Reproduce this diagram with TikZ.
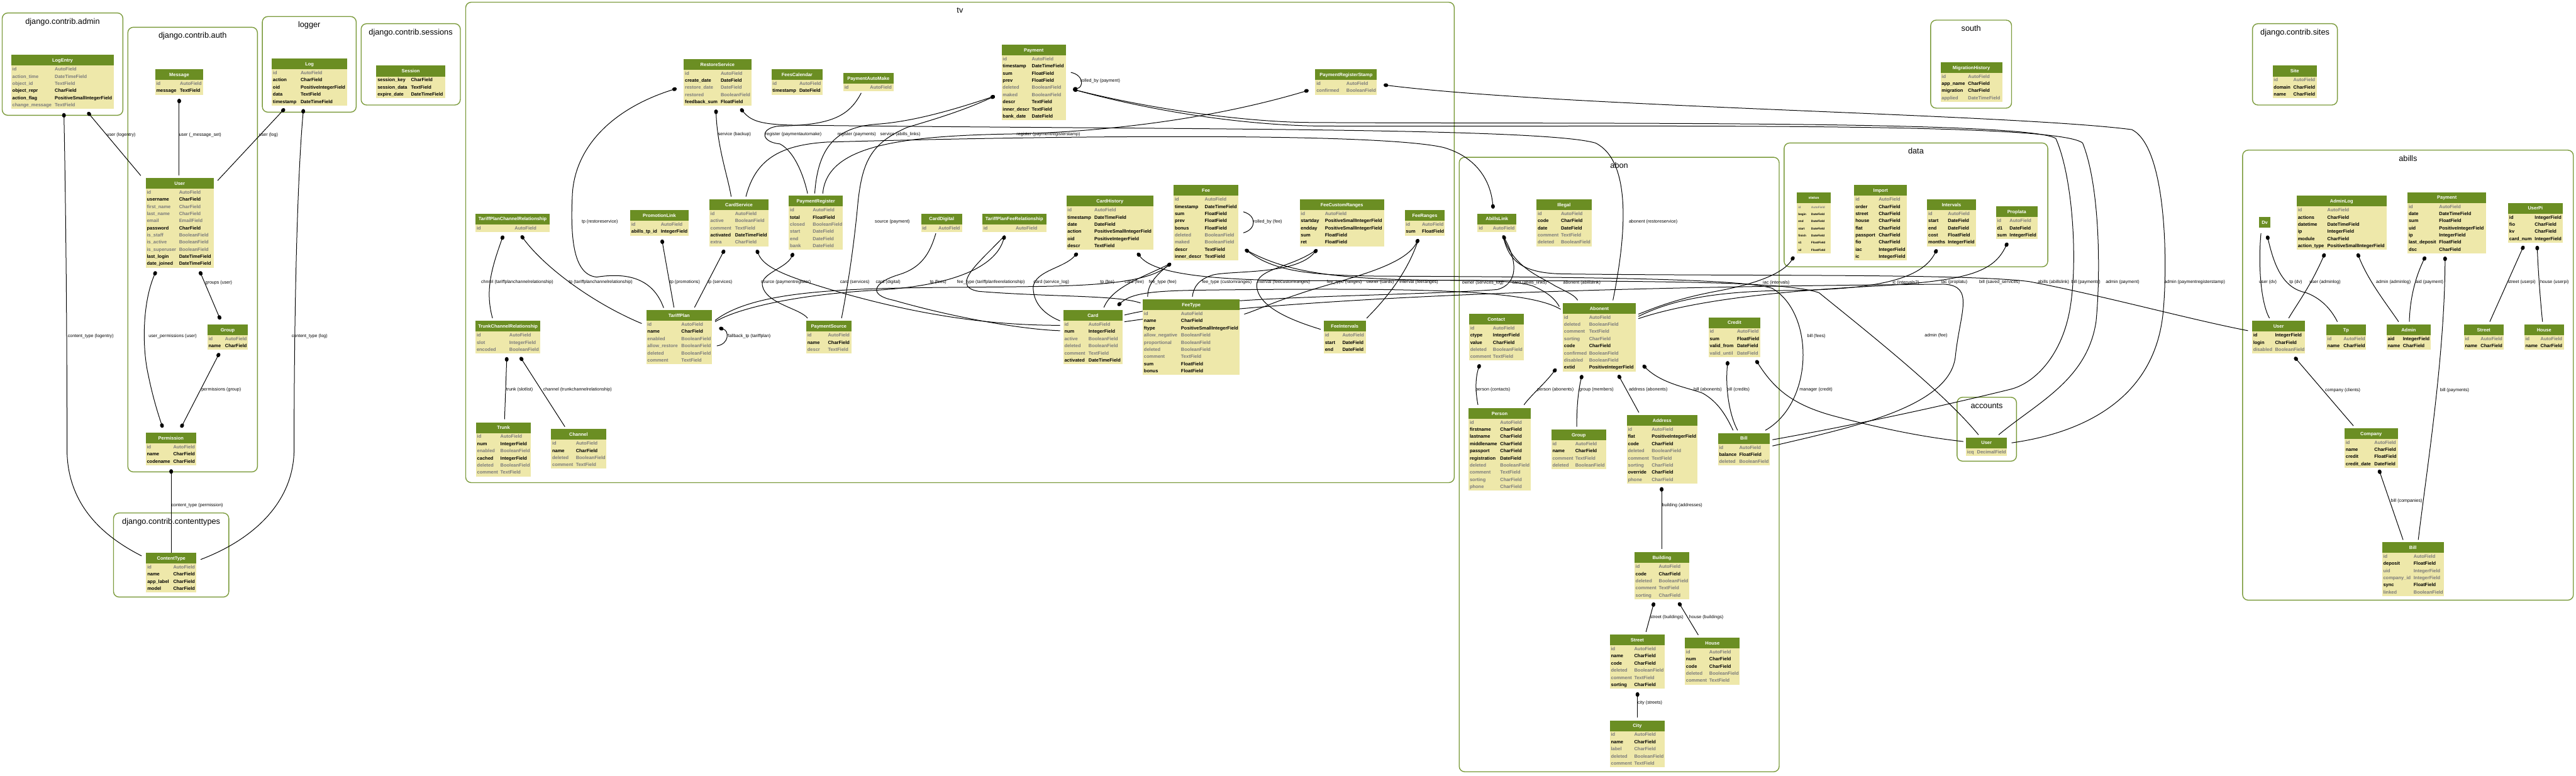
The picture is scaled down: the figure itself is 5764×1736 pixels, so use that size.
\documentclass[tikz,border=0pt]{standalone}
\usepackage{fontspec}
\setmainfont{Liberation Sans}
\usetikzlibrary{fit,arrows.meta}
\definecolor{hdc}{HTML}{6B8E23}
\definecolor{bdc}{HTML}{EEE8AA}
\definecolor{cg}{HTML}{7B7B7B}
\colorlet{cb}{black}
\definecolor{clc}{HTML}{7A9A3A}
\pgfdeclarelayer{back}\pgfdeclarelayer{cl}\pgfdeclarelayer{edges}
\pgfsetlayers{back,cl,edges,main}
\newcommand\rowfont{\fontsize{2.99pt}{3.5pt}\selectfont\bfseries}
\newcommand\hdrfont{\fontsize{2.99pt}{3.5pt}\selectfont\bfseries}
\newcommand\lblfont{\fontsize{2.85pt}{3.3pt}\selectfont}
\newcommand\clfont{\fontsize{5.1pt}{6pt}\selectfont}
\tikzset{
  rowt/.style={font=\rowfont, inner sep=0pt, anchor=base west},
  hdr/.style={font=\hdrfont, text=white, inner sep=0pt},
  lbl/.style={font=\lblfont, inner sep=0pt, anchor=west},
  clus/.style={draw=clc, line width=0.55pt, rounded corners=3.5pt, inner sep=0pt, outer sep=0pt},
  ctitle/.style={font=\clfont, inner sep=0pt, anchor=base},
  fk/.style={draw=black, line width=0.4pt},
  ds/.style={{Ellipse[length=2.9pt,width=2.4pt]}-},
  de/.style={-{Ellipse[length=2.9pt,width=2.4pt]}},
  dd/.style={{Ellipse[length=2.9pt,width=2.4pt]}-{Ellipse[length=2.9pt,width=2.4pt]}},
}
% table: name, title, x0, y0, x1, col2x, rows
\newcommand\mtbl[7]{%
  \expandafter\gdef\csname ox#1\endcsname{#3}%
  \expandafter\gdef\csname oy#1\endcsname{#4}%
  \gdef\nrows{0}%
  \foreach \rc/\ra/\rb [count=\ii] in {#7} {\xdef\nrows{\ii}}%
  \fill[bdc] (#3,#4) rectangle (#5,{#4+25+16*\nrows});
  \fill[hdc] (#3,#4) rectangle (#5,#4+24);
  \node[hdr, anchor=base] (#1-h) at ({(#3+#5)/2},{#4+15.8}) {#2};
  \foreach \rc/\ra/\rb [count=\ii] in {#7} {
    \node[rowt, text=\rc] (#1-\ii-a) at (#3+2,{#4+16*\ii+19.8}) {\ra};
    \node[rowt, text=\rc] (#1-\ii-b) at (#6,{#4+16*\ii+19.8}) {\rb};
  }
  \node[fit={(#3,#4)(#5,{#4+25+16*\nrows})}, inner sep=0pt, outer sep=0pt] (#1) {};
}
\newcommand\mtblh[5]{%
  \expandafter\gdef\csname ox#1\endcsname{#3}%
  \expandafter\gdef\csname oy#1\endcsname{#4}%
  \fill[hdc] (#3,#4) rectangle (#5,#4+24);
  \node[hdr, anchor=base] (#1-h) at ({(#3+#5)/2},{#4+15.8}) {#2};
  \node[fit={(#3,#4)(#5,#4+24)}, inner sep=0pt, outer sep=0pt] (#1) {};
}
% cluster: name, x0,y0,x1,y1,title
\newcommand\clu[6]{%
  \node[clus, fit={(#2,#3)(#4,#5)}] (cl-#1) {};
  \node[ctitle] (cl-#1-t) at ({(#2+#4)/2},{#3+24.5}) {#6};
}
% connector: style, T1, x1, y1, middle, T2, x2, y2
\newcommand\fk[8]{%
  \expandafter\let\expandafter\tmpax\csname ox#2\endcsname
  \expandafter\let\expandafter\tmpay\csname oy#2\endcsname
  \expandafter\let\expandafter\tmpbx\csname ox#6\endcsname
  \expandafter\let\expandafter\tmpby\csname oy#6\endcsname
  \pgfmathsetmacro\pax{#3-\tmpax}\pgfmathsetmacro\pay{#4-\tmpay}%
  \pgfmathsetmacro\pbx{#7-\tmpbx}\pgfmathsetmacro\pby{#8-\tmpby}%
  \draw[fk,#1] ([shift={(\pax,\pay)}]#2.north west) #5 ([shift={(\pbx,\pby)}]#6.north west);
}
\begin{document}
\catcode`\_=12
\begin{tikzpicture}[x=0.01cm,y=-0.01cm]
\useasboundingbox (0,0) rectangle (5764,1736);
\begin{pgfonlayer}{back}
\fill[white] (0,0) rectangle (5764,1736);
\end{pgfonlayer}

\begin{pgfonlayer}{cl}
\clu{admin}{5}{29}{275}{258}{django.contrib.admin}
\clu{auth}{286}{61}{576}{1056}{django.contrib.auth}
\clu{logger}{587}{37}{797}{251}{logger}
\clu{sessions}{808}{53}{1030}{235}{django.contrib.sessions}
\clu{ctypes}{254}{1148}{512}{1336}{django.contrib.contenttypes}
\clu{tv}{1042}{5}{3254}{1080}{tv}
\clu{abon}{3265}{352}{3981}{1727}{abon}
\clu{data}{3992}{320}{4582}{597}{data}
\clu{south}{4320}{45}{4501}{242}{south}
\clu{sites}{5040}{53}{5230}{235}{django.contrib.sites}
\clu{abills}{5018}{336}{5758}{1343}{abills}
\clu{accounts}{4379}{889}{4512}{1032}{accounts}
\end{pgfonlayer}

% ---------------- tables
\mtbl{LogEntry}{LogEntry}{25}{123}{255}{122}{cg/id/AutoField, cg/action_time/DateTimeField, cg/object_id/TextField, cb/object_repr/CharField, cb/action_flag/PositiveSmallIntegerField, cg/change_message/TextField}
\mtbl{Message}{Message}{347}{155}{455}{402}{cg/id/AutoField, cb/message/TextField}
\mtbl{authUser}{User}{326}{398}{478}{400}{cg/id/AutoField, cb/username/CharField, cg/first_name/CharField, cg/last_name/CharField, cg/email/EmailField, cb/password/CharField, cg/is_staff/BooleanField, cg/is_active/BooleanField, cg/is_superuser/BooleanField, cb/last_login/DateTimeField, cb/date_joined/DateTimeField}
\mtbl{authGroup}{Group}{464}{726}{555}{503}{cg/id/AutoField, cb/name/CharField}
\mtbl{Permission}{Permission}{326}{968}{439}{387}{cg/id/AutoField, cb/name/CharField, cb/codename/CharField}
\mtbl{ContentType}{ContentType}{327}{1237}{439}{387}{cg/id/AutoField, cb/name/CharField, cb/app_label/CharField, cb/model/CharField}
\mtbl{Log}{Log}{608}{131}{777}{672}{cg/id/AutoField, cb/action/CharField, cb/oid/PositiveIntegerField, cb/data/TextField, cb/timestamp/DateTimeField}
\mtbl{Session}{Session}{842}{147}{996}{919}{cb/session_key/CharField, cb/session_data/TextField, cb/expire_date/DateTimeField}
% tv
\mtbl{RestoreService}{RestoreService}{1530}{132}{1681}{1612}{cg/id/AutoField, cb/create_date/DateField, cg/restore_date/DateField, cg/restored/BooleanField, cb/feedback_sum/FloatField}
\mtbl{FeesCalendar}{FeesCalendar}{1726}{155}{1841}{1788}{cg/id/AutoField, cb/timestamp/DateField}
\mtbl{PaymentAutoMake}{PaymentAutoMake}{1887}{163}{1999}{1946}{cg/id/AutoField}
\mtbl{tvPayment}{Payment}{2241}{100}{2385}{2308}{cg/id/AutoField, cb/timestamp/DateTimeField, cb/sum/FloatField, cb/prev/FloatField, cg/deleted/BooleanField, cg/maked/BooleanField, cb/descr/TextField, cb/inner_descr/TextField, cb/bank_date/DateField}
\mtbl{PaymentRegisterStamp}{PaymentRegisterStamp}{2943}{155}{3081}{3012}{cg/id/AutoField, cg/confirmed/BooleanField}
\mtbl{TariffPlanChannelRelationship}{TariffPlanChannelRelationship}{1064}{478}{1230}{1151}{cg/id/AutoField}
\mtbl{PromotionLink}{PromotionLink}{1410}{470}{1541}{1478}{cg/id/AutoField, cb/abills_tp_id/IntegerField}
\mtbl{CardService}{CardService}{1587}{446}{1720}{1644}{cg/id/AutoField, cg/active/BooleanField, cg/comment/TextField, cb/activated/DateTimeField, cg/extra/CharField}
\mtbl{PaymentRegister}{PaymentRegister}{1765}{438}{1886}{1818}{cg/id/AutoField, cb/total/FloatField, cg/closed/BooleanField, cg/start/DateField, cg/end/DateField, cg/bank/DateField}
\mtbl{CardDigital}{CardDigital}{2061}{478}{2153}{2099}{cg/id/AutoField}
\mtbl{TariffPlanFeeRelationship}{TariffPlanFeeRelationship}{2198}{478}{2341}{2272}{cg/id/AutoField}
\mtbl{CardHistory}{CardHistory}{2386}{438}{2581}{2448}{cg/id/AutoField, cb/timestamp/DateTimeField, cb/date/DateField, cb/action/PositiveSmallIntegerField, cb/oid/PositiveIntegerField, cb/descr/TextField}
\mtbl{Fee}{Fee}{2626}{414}{2771}{2695}{cg/id/AutoField, cb/timestamp/DateTimeField, cb/sum/FloatField, cb/prev/FloatField, cb/bonus/FloatField, cg/deleted/BooleanField, cg/maked/BooleanField, cb/descr/TextField, cb/inner_descr/TextField}
\mtbl{FeeCustomRanges}{FeeCustomRanges}{2908}{446}{3097}{2964}{cg/id/AutoField, cb/startday/PositiveSmallIntegerField, cb/endday/PositiveSmallIntegerField, cb/sum/FloatField, cb/ret/FloatField}
\mtbl{FeeRanges}{FeeRanges}{3143}{470}{3233}{3181}{cg/id/AutoField, cb/sum/FloatField}
\mtbl{TrunkChannelRelationship}{TrunkChannelRelationship}{1064}{718}{1209}{1139}{cg/id/AutoField, cg/slot/IntegerField, cg/encoded/BooleanField}
\mtbl{TariffPlan}{TariffPlan}{1446}{694}{1593}{1524}{cg/id/AutoField, cb/name/CharField, cg/enabled/BooleanField, cg/allow_restore/BooleanField, cg/deleted/BooleanField, cg/comment/TextField}
\mtbl{PaymentSource}{PaymentSource}{1804}{718}{1905}{1852}{cg/id/AutoField, cb/name/CharField, cg/descr/TextField}
\mtbl{Card}{Card}{2379}{694}{2512}{2435}{cg/id/AutoField, cb/num/IntegerField, cg/active/BooleanField, cg/deleted/BooleanField, cg/comment/TextField, cb/activated/DateTimeField}
\mtbl{FeeType}{FeeType}{2557}{670}{2774}{2642}{cg/id/AutoField, cb/name/CharField, cb/ftype/PositiveSmallIntegerField, cg/allow_negative/BooleanField, cg/proportional/BooleanField, cg/deleted/BooleanField, cg/comment/TextField, cb/sum/FloatField, cb/bonus/FloatField}
\mtbl{FeeIntervals}{FeeIntervals}{2962}{718}{3056}{3003}{cg/id/AutoField, cb/start/DateField, cb/end/DateField}
\mtbl{Trunk}{Trunk}{1065}{945}{1188}{1119}{cg/id/AutoField, cb/num/IntegerField, cg/enabled/BooleanField, cb/cached/IntegerField, cg/deleted/BooleanField, cg/comment/TextField}
\mtbl{Channel}{Channel}{1233}{960}{1356}{1288}{cg/id/AutoField, cb/name/CharField, cg/deleted/BooleanField, cg/comment/TextField}
% abon
\mtbl{AbillsLink}{AbillsLink}{3306}{478}{3393}{3340}{cg/id/AutoField}
\mtbl{Illegal}{Illegal}{3438}{446}{3561}{3492}{cg/id/AutoField, cb/code/CharField, cb/date/DateField, cg/comment/TextField, cg/deleted/BooleanField}
\mtbl{Abonent}{Abonent}{3497}{678}{3660}{3555}{cg/id/AutoField, cg/deleted/BooleanField, cg/comment/TextField, cg/sorting/CharField, cb/code/CharField, cg/confirmed/BooleanField, cg/disabled/BooleanField, cb/extid/PositiveIntegerField}
\mtbl{Contact}{Contact}{3287}{702}{3409}{3340}{cg/id/AutoField, cb/ctype/IntegerField, cb/value/CharField, cg/deleted/BooleanField, cg/comment/TextField}
\mtbl{Credit}{Credit}{3823}{710}{3939}{3886}{cg/id/AutoField, cb/sum/FloatField, cb/valid_from/DateField, cg/valid_until/DateField}
\mtbl{Person}{Person}{3286}{913}{3425}{3356}{cg/id/AutoField, cb/firstname/CharField, cb/lastname/CharField, cb/middlename/CharField, cb/passport/CharField, cb/registration/DateField, cg/deleted/BooleanField, cg/comment/TextField, cg/sorting/CharField, cg/phone/CharField}
\mtbl{aGroup}{Group}{3471}{961}{3594}{3524}{cg/id/AutoField, cb/name/CharField, cg/comment/TextField, cg/deleted/BooleanField}
\mtbl{Address}{Address}{3640}{929}{3798}{3695}{cg/id/AutoField, cb/flat/PositiveIntegerField, cb/code/CharField, cg/deleted/BooleanField, cg/comment/TextField, cg/sorting/CharField, cb/override/CharField, cg/phone/CharField}
\mtbl{aBill}{Bill}{3844}{969}{3960}{3891}{cg/id/AutoField, cb/balance/FloatField, cg/deleted/BooleanField}
\mtbl{Building}{Building}{3657}{1236}{3780}{3711}{cg/id/AutoField, cb/code/CharField, cg/deleted/BooleanField, cg/comment/TextField, cg/sorting/CharField}
\mtbl{aStreet}{Street}{3602}{1420}{3725}{3656}{cg/id/AutoField, cb/name/CharField, cb/code/CharField, cg/deleted/BooleanField, cg/comment/TextField, cb/sorting/CharField}
\mtbl{aHouse}{House}{3770}{1427}{3893}{3824}{cg/id/AutoField, cb/num/CharField, cb/code/CharField, cg/deleted/BooleanField, cg/comment/TextField}
\mtbl{City}{City}{3602}{1612}{3725}{3656}{cg/id/AutoField, cb/name/CharField, cg/label/CharField, cg/deleted/BooleanField, cg/comment/TextField}
% data
\begingroup
\renewcommand\rowfont{\fontsize{1.9pt}{2.2pt}\selectfont\bfseries}%
\renewcommand\hdrfont{\fontsize{2.3pt}{2.7pt}\selectfont\bfseries}%
\mtbl{status}{status}{4021}{430}{4096}{4052}{cg/id/AutoField, cb/begin/DateField, cb/end/DateField, cb/start/DateField, cb/finish/DateField, cb/s1/FloatField, cb/s2/FloatField}
\endgroup
\mtbl{Import}{Import}{4149}{414}{4267}{4203}{cg/id/AutoField, cb/order/CharField, cb/street/CharField, cb/house/CharField, cb/flat/CharField, cb/passport/CharField, cb/fio/CharField, cb/iac/IntegerField, cb/ic/IntegerField}
\mtbl{Intervals}{Intervals}{4312}{446}{4421}{4358}{cg/id/AutoField, cb/start/DateField, cb/end/DateField, cb/cost/FloatField, cb/months/IntegerField}
\mtbl{Proplata}{Proplata}{4466}{462}{4559}{4496}{cg/id/AutoField, cb/d1/DateField, cb/sum/IntegerField}
% south, sites
\mtbl{MigrationHistory}{MigrationHistory}{4342}{139}{4480}{4403}{cg/id/AutoField, cb/app_name/CharField, cb/migration/CharField, cg/applied/DateTimeField}
\mtbl{Site}{Site}{5085}{147}{5184}{5131}{cg/id/AutoField, cb/domain/CharField, cb/name/CharField}
% abills
\mtblh{Dv}{Dv}{5055}{486}{5080}
\mtbl{AdminLog}{AdminLog}{5139}{438}{5340}{5207}{cg/id/AutoField, cb/actions/CharField, cb/datetime/DateTimeField, cb/ip/IntegerField, cb/module/CharField, cb/action_type/PositiveSmallIntegerField}
\mtbl{abPayment}{Payment}{5387}{430}{5563}{5457}{cg/id/AutoField, cb/date/DateTimeField, cb/sum/FloatField, cb/uid/PositiveIntegerField, cb/ip/IntegerField, cb/last_deposit/FloatField, cb/dsc/CharField}
\mtbl{UserPi}{UserPi}{5612}{454}{5734}{5671}{cb/id/IntegerField, cb/fio/CharField, cb/kv/CharField, cb/card_num/IntegerField}
\mtbl{abUser}{User}{5039}{718}{5158}{5090}{cb/id/IntegerField, cb/login/CharField, cg/disabled/BooleanField}
\mtbl{Tp}{Tp}{5205}{726}{5294}{5243}{cg/id/AutoField, cb/name/CharField}
\mtbl{Admin}{Admin}{5340}{726}{5439}{5376}{cb/aid/IntegerField, cb/name/CharField}
\mtbl{abStreet}{Street}{5513}{726}{5602}{5550}{cg/id/AutoField, cb/name/CharField}
\mtbl{abHouse}{House}{5648}{726}{5737}{5684}{cg/id/AutoField, cb/name/CharField}
\mtbl{Company}{Company}{5246}{958}{5365}{5312}{cg/id/AutoField, cb/name/CharField, cb/credit/FloatField, cb/credit_date/DateField}
\mtbl{abBill}{Bill}{5330}{1213}{5468}{5400}{cg/id/AutoField, cb/deposit/FloatField, cg/uid/IntegerField, cg/company_id/IntegerField, cb/sync/FloatField, cg/linked/BooleanField}
% accounts
\mtbl{acUser}{User}{4399}{979}{4491}{4423}{cg/icq/DecimalField}

% ---------------- connectors
\begin{pgfonlayer}{edges}
\fk{ds}{LogEntry}{196}{251}{--}{authUser}{315}{393}
\fk{ds}{LogEntry}{143}{253}{.. controls (148,500) and (150,800) .. (150,1010) .. controls (152,1130) and (230,1200) ..}{ContentType}{317}{1244}
\fk{ds}{Message}{401}{221}{--}{authUser}{401}{393}
\fk{ds}{Log}{637}{243}{--}{authUser}{487}{404}
\fk{ds}{Log}{679}{244}{.. controls (665,400) and (658,700) .. (658,1010) .. controls (655,1130) and (560,1210) ..}{ContentType}{449}{1252}
\fk{dd}{authUser}{447}{607}{--}{authGroup}{493}{715}
\fk{dd}{authUser}{349}{607}{.. controls (318,680) and (318,780) .. (332,840) .. controls (342,890) and (355,930) ..}{Permission}{364}{957}
\fk{dd}{authGroup}{491}{790}{--}{Permission}{405}{957}
\fk{ds}{Permission}{383}{1050}{--}{ContentType}{383}{1238}
% tv
\fk{ds}{RestoreService}{1514}{198}{.. controls (1380,240) and (1290,320) .. (1281,430) .. controls (1275,540) and (1285,615) .. (1335,620) .. controls (1400,610) and (1460,620) ..}{TariffPlan}{1485}{689}
\fk{ds}{RestoreService}{1602}{245}{.. controls (1605,330) and (1630,400) ..}{CardService}{1636}{440}
\fk{ds}{RestoreService}{1657}{243}{.. controls (1680,270) and (1700,278) .. (1770,280) .. controls (2600,290) and (3450,285) .. (3570,320) .. controls (3650,360) and (3640,520) ..}{Abonent}{3609}{672}
\fk{}{PaymentAutoMake}{1927}{208}{.. controls (1900,260) and (1860,280) .. (1745,282) .. controls (1700,285) and (1700,318) .. (1745,322) .. controls (1780,340) and (1800,400) ..}{PaymentRegister}{1807}{433}
\fk{de}{PaymentRegister}{1823}{433}{.. controls (1830,330) and (1870,285) .. (1960,278) .. controls (2050,272) and (2150,240) ..}{tvPayment}{2226}{215}
\fk{de}{CardService}{1669}{440}{.. controls (1690,360) and (1740,325) .. (1850,318) .. controls (2500,300) and (3100,300) .. (3230,330) .. controls (3300,350) and (3335,400) ..}{AbillsLink}{3341}{467}
\fk{ds}{tvPayment}{2226}{215}{.. controls (2150,250) and (2080,270) .. (2030,285) .. controls (1950,320) and (1930,360) .. (1920,450) .. controls (1910,560) and (1895,650) ..}{PaymentSource}{1883}{712}
\fk{ds}{PaymentRegisterStamp}{2928}{202}{.. controls (2700,270) and (2450,297) .. (2250,300) .. controls (2000,305) and (1850,330) ..}{PaymentRegister}{1841}{433}
\fk{ds}{PaymentRegisterStamp}{3096}{190}{.. controls (3500,240) and (4500,255) .. (4770,290) .. controls (4850,330) and (4850,600) .. (4840,700) .. controls (4820,900) and (4650,970) ..}{acUser}{4501}{991}
\fk{de}{tvPayment}{2396}{162}{.. controls (2425,168) and (2425,195) ..}{tvPayment}{2401}{200}
\fk{ds}{tvPayment}{2401}{200}{.. controls (2600,250) and (2800,272) .. (2920,274) .. controls (3500,278) and (4540,268) .. (4600,310) .. controls (4640,400) and (4650,600) .. (4630,700) .. controls (4610,800) and (4550,860) .. (4495,872) .. controls (4300,920) and (4100,960) ..}{aBill}{3966}{984}
\fk{}{tvPayment}{2401}{200}{.. controls (2600,255) and (2800,280) .. (2950,282) .. controls (3600,285) and (4600,270) .. (4660,320) .. controls (4700,420) and (4700,620) .. (4690,720) .. controls (4670,850) and (4560,900) ..}{acUser}{4472}{973}
\fk{}{Fee}{2782}{474}{.. controls (2812,482) and (2812,513) ..}{Fee}{2782}{521}
\fk{ds}{Fee}{2620}{589}{.. controls (2560,640) and (2400,640) .. (2250,642) .. controls (1950,645) and (1700,640) ..}{TariffPlan}{1600}{717}
\fk{}{Fee}{2620}{589}{.. controls (2560,620) and (2490,640) ..}{Card}{2470}{688}
\fk{}{Fee}{2620}{589}{.. controls (2580,620) and (2568,640) ..}{FeeType}{2568}{664}
\fk{ds}{Fee}{2786}{558}{.. controls (2850,605) and (2920,617) .. (3100,618) .. controls (3600,620) and (3900,625) .. (3965,645) .. controls (4060,700) and (4060,900) ..}{aBill}{3950}{963}
\fk{}{Fee}{2786}{558}{.. controls (2880,612) and (3000,624) .. (3200,627) .. controls (3700,630) and (3990,628) .. (4070,655) .. controls (4200,760) and (4350,880) ..}{acUser}{4427}{973}
\fk{ds}{FeeCustomRanges}{2947}{558}{.. controls (2900,615) and (2760,605) .. (2715,615) .. controls (2680,625) and (2670,645) ..}{FeeType}{2668}{664}
\fk{}{FeeCustomRanges}{2947}{558}{.. controls (2890,600) and (2810,600) .. (2812,640) .. controls (2815,690) and (2900,720) ..}{FeeIntervals}{2955}{737}
\fk{ds}{FeeRanges}{3174}{535}{.. controls (3140,600) and (3000,625) .. (2900,660) .. controls (2840,680) and (2810,695) ..}{FeeType}{2784}{703}
\fk{}{FeeRanges}{3174}{535}{.. controls (3150,610) and (3100,670) ..}{FeeIntervals}{3058}{712}
\fk{ds}{CardHistory}{2411}{566}{.. controls (2380,600) and (2320,605) .. (2312,640) .. controls (2310,680) and (2340,705) ..}{Card}{2372}{718}
\fk{ds}{CardHistory}{2545}{566}{.. controls (2580,612) and (2700,626) .. (2900,628) .. controls (3200,630) and (3370,620) .. (3430,640) .. controls (3465,655) and (3480,670) ..}{Abonent}{3489}{686}
\fk{ds}{Card}{2501}{684}{.. controls (2540,648) and (2620,650) .. (2800,648) .. controls (3200,645) and (3420,650) ..}{Abonent}{3492}{692}
\fk{ds}{CardService}{1693}{559}{.. controls (1710,600) and (1760,620) .. (1900,660) .. controls (2100,715) and (2250,728) ..}{Card}{2372}{728}
\fk{}{CardDigital}{2094}{522}{.. controls (2080,570) and (2060,600) .. (2010,615) .. controls (1955,632) and (1940,660) .. (2000,672) .. controls (2150,715) and (2300,738) ..}{Card}{2372}{740}
\fk{ds}{TariffPlanFeeRelationship}{2248}{527}{.. controls (2230,590) and (2150,640) .. (1950,650) .. controls (1780,660) and (1650,690) ..}{TariffPlan}{1600}{720}
\fk{}{TariffPlanFeeRelationship}{2248}{527}{.. controls (2200,580) and (2120,640) .. (2190,652) .. controls (2350,665) and (2500,660) ..}{FeeType}{2552}{678}
\fk{ds}{TariffPlanChannelRelationship}{1126}{527}{.. controls (1100,600) and (1085,650) ..}{TrunkChannelRelationship}{1102}{712}
\fk{ds}{TariffPlanChannelRelationship}{1166}{527}{.. controls (1220,600) and (1330,680) ..}{TariffPlan}{1436}{724}
\fk{ds}{PromotionLink}{1481}{536}{--}{TariffPlan}{1508}{688}
\fk{ds}{CardService}{1621}{559}{--}{TariffPlan}{1554}{688}
\fk{ds}{PaymentRegister}{1775}{566}{.. controls (1760,600) and (1700,612) .. (1706,640) .. controls (1715,680) and (1790,690) ..}{PaymentSource}{1807}{712}
\fk{ds}{TariffPlan}{1609}{734}{.. controls (1632,740) and (1632,770) ..}{TariffPlan}{1604}{774}
\fk{ds}{TrunkChannelRelationship}{1134}{799}{--}{Trunk}{1129}{938}
\fk{ds}{TrunkChannelRelationship}{1164}{799}{--}{Channel}{1264}{955}
% abon / data
\fk{ds}{AbillsLink}{3363}{527}{.. controls (3395,585) and (3398,635) .. (3350,648) .. controls (3100,665) and (2700,660) ..}{Card}{2516}{705}
\fk{}{AbillsLink}{3363}{527}{.. controls (3385,600) and (3450,620) .. (3480,640) .. controls (3510,655) and (3525,662) ..}{Abonent}{3530}{672}
\fk{}{AbillsLink}{3363}{527}{.. controls (3375,580) and (3400,612) .. (3500,613) .. controls (3900,618) and (4400,612) .. (4540,630) .. controls (4700,660) and (4900,715) ..}{abUser}{5030}{740}
\fk{ds}{status}{4014}{574}{.. controls (3985,620) and (3900,640) .. (3850,650) .. controls (3750,668) and (3700,690) ..}{Abonent}{3666}{703}
\fk{ds}{Intervals}{4334}{558}{.. controls (4300,625) and (4200,648) .. (4000,650) .. controls (3800,652) and (3720,682) ..}{Abonent}{3666}{708}
\fk{ds}{Proplata}{4492}{543}{.. controls (4460,610) and (4400,628) .. (4200,640) .. controls (3900,655) and (3750,685) ..}{Abonent}{3666}{713}
\fk{}{aBill}{3966}{998}{.. controls (4150,955) and (4360,910) .. (4375,800) .. controls (4385,700) and (4420,640) .. (4350,636) .. controls (3900,640) and (3000,650) ..}{Card}{2516}{720}
\fk{ds}{Contact}{3311}{815}{.. controls (3300,850) and (3302,880) ..}{Person}{3307}{906}
\fk{ds}{Abonent}{3482}{825}{.. controls (3455,860) and (3425,885) ..}{Person}{3410}{906}
\fk{ds}{Abonent}{3540}{839}{.. controls (3530,880) and (3528,920) ..}{aGroup}{3528}{955}
\fk{ds}{Abonent}{3621}{839}{--}{Address}{3667}{923}
\fk{ds}{Abonent}{3676}{817}{.. controls (3720,860) and (3780,868) .. (3810,880) .. controls (3845,900) and (3862,930) ..}{aBill}{3878}{963}
\fk{ds}{Credit}{3866}{808}{.. controls (3860,870) and (3870,930) ..}{aBill}{3888}{963}
\fk{ds}{Credit}{3929}{806}{.. controls (3970,870) and (4010,905) .. (4100,930) .. controls (4250,970) and (4340,982) ..}{acUser}{4393}{988}
\fk{ds}{Address}{3718}{1090}{--}{Building}{3718}{1229}
\fk{ds}{Building}{3701}{1348}{--}{aStreet}{3683}{1414}
\fk{ds}{Building}{3756}{1348}{--}{aHouse}{3800}{1421}
\fk{ds}{aStreet}{3664}{1549}{--}{City}{3664}{1605}
% abills
\fk{}{Dv}{5059}{522}{.. controls (5052,600) and (5060,680) ..}{abUser}{5078}{712}
\fk{ds}{Dv}{5073}{527}{.. controls (5090,600) and (5110,645) .. (5160,655) .. controls (5200,670) and (5220,700) ..}{Tp}{5230}{720}
\fk{ds}{AdminLog}{5202}{567}{.. controls (5170,640) and (5140,680) ..}{abUser}{5121}{712}
\fk{ds}{AdminLog}{5275}{567}{.. controls (5300,630) and (5340,680) ..}{Admin}{5367}{720}
\fk{ds}{abPayment}{5427}{574}{.. controls (5400,630) and (5392,680) ..}{Admin}{5391}{720}
\fk{ds}{abPayment}{5471}{574}{.. controls (5470,800) and (5430,1050) ..}{abBill}{5411}{1208}
\fk{ds}{UserPi}{5647}{550}{--}{abStreet}{5571}{720}
\fk{ds}{UserPi}{5677}{550}{.. controls (5680,620) and (5685,680) ..}{abHouse}{5689}{720}
\fk{ds}{abUser}{5134}{799}{--}{Company}{5266}{953}
\fk{ds}{Company}{5323}{1051}{--}{abBill}{5377}{1208}
\end{pgfonlayer}

% ---------------- labels
\node[lbl] (lb1) at (238,302) {user (logentry)};
\node[lbl] (lb2) at (151,752) {content_type (logentry)};
\node[lbl] (lb3) at (400,302) {user (_message_set)};
\node[lbl] (lb4) at (579,302) {user (log)};
\node[lbl] (lb5) at (652,752) {content_type (log)};
\node[lbl] (lb6) at (459,633) {groups (user)};
\node[lbl] (lb7) at (332,752) {user_permissions (user)};
\node[lbl] (lb8) at (450,872) {permissions (group)};
\node[lbl] (lb9) at (383,1131) {content_type (permission)};
\node[lbl] (lb10) at (1301,496) {tp (restoreservice)};
\node[lbl] (lb11) at (1606,301) {service (backup)};
\node[lbl] (lb12) at (3644,496) {abonent (restoreservice)};
\node[lbl] (lb13) at (1712,301) {register (paymentautomake)};
\node[lbl] (lb14) at (1873,301) {register (payments)};
\node[lbl] (lb15) at (1969,301) {service (abills_links)};
\node[lbl] (lb16) at (1957,496) {source (payment)};
\node[lbl] (lb17) at (2274,301) {register (paymentregisterstamp)};
\node[lbl] (lb18) at (4842,632) {admin (paymentregisterstamp)};
\node[lbl] (lb19) at (2417,181) {rolled_by (payment)};
\node[lbl] (lb20) at (4634,632) {bill (payments)};
\node[lbl] (lb21) at (4711,632) {admin (payment)};
\node[lbl] (lb22) at (2804,496) {rolled_by (fee)};
\node[lbl] (lb23) at (2461,632) {tp (fee)};
\node[lbl] (lb24) at (2516,632) {card (fee)};
\node[lbl] (lb25) at (2570,632) {fee_type (fee)};
\node[lbl] (lb26) at (4043,752) {bill (fees)};
\node[lbl] (lb27) at (4306,751) {admin (fee)};
\node[lbl] (lb28) at (2689,632) {fee_type (customranges)};
\node[lbl] (lb29) at (2812,632) {interval (feecustomranges)};
\node[lbl] (lb30) at (2968,632) {fee_type (ranges)};
\node[lbl] (lb31) at (3131,632) {interval (feeranges)};
\node[lbl] (lb32) at (2312,632) {card (service_log)};
\node[lbl] (lb33) at (3271,633) {owner (services_log)};
\node[lbl] (lb34) at (3057,632) {owner (cards)};
\node[lbl] (lb35) at (1879,632) {card (services)};
\node[lbl] (lb36) at (1959,632) {card (digital)};
\node[lbl] (lb37) at (2080,632) {tp (fees)};
\node[lbl] (lb38) at (2141,632) {fee_type (tariffplanfeerelationship)};
\node[lbl] (lb39) at (1076,632) {chnrel (tariffplanchannelrelationship)};
\node[lbl] (lb40) at (1272,632) {tp (tariffplanchannelrelationship)};
\node[lbl] (lb41) at (1498,632) {tp (promotions)};
\node[lbl] (lb42) at (1583,632) {tp (services)};
\node[lbl] (lb43) at (1702,632) {source (paymentregister)};
\node[lbl] (lb44) at (1628,753) {fallback_tp (tariffplan)};
\node[lbl] (lb45) at (1132,872) {trunk (slotlist)};
\node[lbl] (lb46) at (1215,872) {channel (trunkchannelrelationship)};
\node[lbl] (lb47) at (3383,633) {card (abills_links)};
\node[lbl] (lb48) at (3497,633) {abonent (abillslink)};
\node[lbl] (lb49) at (4559,632) {abills (abillslink)};
\node[lbl] (lb50) at (3944,633) {iac (intervals)};
\node[lbl] (lb51) at (4234,633) {ic (intervals2)};
\node[lbl] (lb52) at (4343,632) {iac (proplatu)};
\node[lbl] (lb53) at (4428,632) {bill (saved_services)};
\node[lbl] (lb54) at (3301,872) {person (contacts)};
\node[lbl] (lb55) at (3439,872) {person (abonents)};
\node[lbl] (lb56) at (3533,872) {group (members)};
\node[lbl] (lb57) at (3644,872) {address (abonents)};
\node[lbl] (lb58) at (3789,872) {bill (abonents)};
\node[lbl] (lb59) at (3863,872) {bill (credits)};
\node[lbl] (lb60) at (4026,872) {manager (credit)};
\node[lbl] (lb61) at (3718,1131) {building (addresses)};
\node[lbl] (lb62) at (3692,1381) {street (buildings)};
\node[lbl] (lb63) at (3779,1381) {house (buildings)};
\node[lbl] (lb64) at (3664,1573) {city (streets)};
\node[lbl] (lb65) at (5054,632) {user (dv)};
\node[lbl] (lb66) at (5122,632) {tp (dv)};
\node[lbl] (lb67) at (5167,632) {user (adminlog)};
\node[lbl] (lb68) at (5316,632) {admin (adminlog)};
\node[lbl] (lb69) at (5405,632) {aid (payment)};
\node[lbl] (lb70) at (5459,873) {bill (payments)};
\node[lbl] (lb71) at (5611,632) {street (userpi)};
\node[lbl] (lb72) at (5683,632) {house (userpi)};
\node[lbl] (lb73) at (5202,873) {company (clients)};
\node[lbl] (lb74) at (5349,1121) {bill (companies)};
\end{tikzpicture}
\end{document}
